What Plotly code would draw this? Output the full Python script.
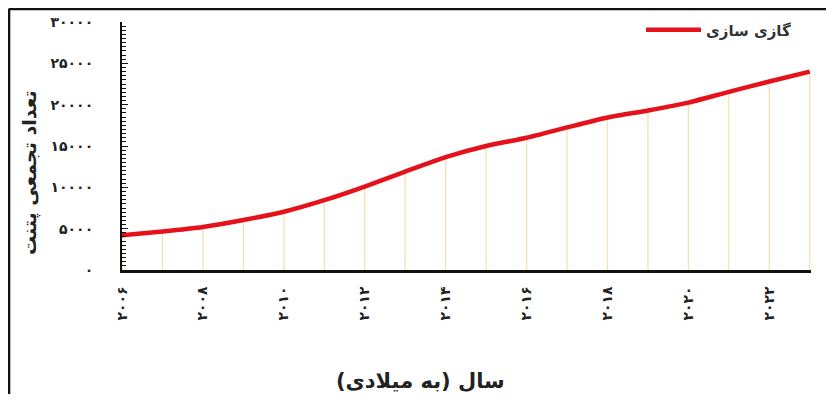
import plotly.graph_objects as go

years = list(range(2006, 2024))
patents = [4200, 4650, 5200, 6050, 7050, 8450, 10100, 11900, 13650, 15000,
           16000, 17250, 18450, 19300, 20250, 21550, 22800, 24000]
series_name = "گازی سازی"
y_tick_vals = [0, 5000, 10000, 15000, 20000, 25000, 30000]
x_tick_vals = [2006, 2008, 2010, 2012, 2014, 2016, 2018, 2020, 2022]
y_title = "تعداد تجمعی پتنت"
x_title = "سال (به میلادی)"

FA = str.maketrans("0123456789", "۰۱۲۳۴۵۶۷۸۹")
def fa(v):
    return str(v).translate(FA)

FONT = "DejaVu Sans"
OFF = 8  # page body margin

fig = go.Figure()
fig.add_trace(go.Scatter(
    x=years, y=patents, mode="markers", marker=dict(size=1, opacity=0),
    showlegend=False, hoverinfo="skip",
    error_y=dict(type="data", symmetric=False, array=[0] * len(patents),
                 arrayminus=patents, width=0, thickness=1.3, color="#F5E0B0"),
))
fig.add_trace(go.Scatter(
    x=years, y=patents, mode="lines", name="<b>" + series_name + "</b>",
    line=dict(color="#E5121B", width=4.5, shape="spline", smoothing=0.6),
))

W, H = 834 - 2 * OFF, 402 - 2 * OFF
L, T = 122 - OFF, 22 - OFF
R = W - (811 - OFF)
B = H - (270 - OFF)
pw, ph = W - L - R, H - T - B

def px(xp):
    return (xp - OFF - L) / pw
def py(yp):
    return (H - B - (yp - OFF)) / ph

fig.update_layout(
    width=W, height=H,
    margin=dict(l=L, r=R, t=T, b=B, autoexpand=False),
    paper_bgcolor="white", plot_bgcolor="white",
    font=dict(family=FONT, color="#222"),
    showlegend=True,
    legend=dict(x=px(641), y=py(30), xanchor="left", yanchor="middle",
                bgcolor="rgba(0,0,0,0)", font=dict(size=15, color="#333", family=FONT),
                itemwidth=55),
    xaxis=dict(range=[2006, 2023.03], tickvals=x_tick_vals,
               ticktext=["<b>" + fa(v) + "</b>" for v in x_tick_vals],
               tickangle=-90, tickfont=dict(size=14, color="#222"),
               showgrid=False, zeroline=False, showline=True, automargin=False,
               linecolor="#111", linewidth=2.5, ticks="", ticklabelstandoff=8),
    yaxis=dict(range=[0, 30000], tickvals=y_tick_vals,
               ticktext=["<b>" + fa(v) + "</b>" for v in y_tick_vals],
               tickfont=dict(size=14, color="#222"),
               showgrid=False, zeroline=False, showline=True, automargin=False,
               linecolor="#111", linewidth=2, ticks="inside", ticklen=6,
               tickcolor="#111", ticklabelstandoff=24,
               minor=dict(dtick=500, ticks="inside", ticklen=4, tickcolor="#111")),
)

fig.add_annotation(text="<b>" + y_title + "</b>", xref="paper", yref="paper",
                   x=px(29), y=py(172), xanchor="center", yanchor="middle",
                   textangle=-90, showarrow=False,
                   font=dict(size=19, color="#222", family=FONT))
fig.add_annotation(text="<b>" + x_title + "</b>", xref="paper", yref="paper",
                   x=px(420), y=py(381), xanchor="center", yanchor="middle",
                   showarrow=False,
                   font=dict(size=21, color="#222", family=FONT))

fig.add_shape(type="line", xref="paper", yref="paper",
              x0=px(8.8), x1=px(8.8), y0=py(402), y1=py(8.8),
              line=dict(color="#111", width=3))
fig.add_shape(type="line", xref="paper", yref="paper",
              x0=px(8.8), x1=px(834), y0=py(8.8), y1=py(8.8),
              line=dict(color="#111", width=3))

fig.write_html("out.html")
